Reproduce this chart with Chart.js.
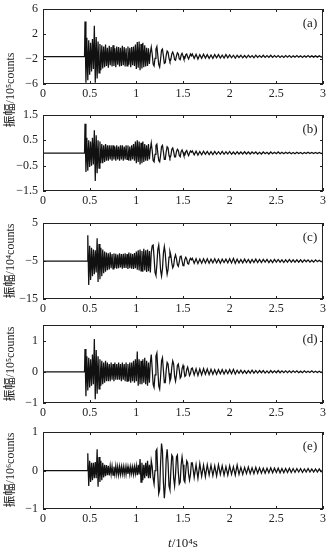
<!DOCTYPE html>
<html>
<head>
<meta charset="utf-8">
<script src="https://cdn.jsdelivr.net/npm/chart.js@4.4.0/dist/chart.umd.min.js"></script>
<style>
  body { margin: 0; background: #fff; width: 329px; height: 553px; position: relative; overflow: hidden;
         font-family: "Liberation Serif", "Noto Sans CJK SC", serif; color: #222; }
  .panel { position: absolute; left: 0; width: 329px; }
  .ylab { position: absolute; left: 9px; font-size: 12px; white-space: nowrap;
          transform: translate(-50%, -50%) rotate(-90deg); }
  .xlab { position: absolute; left: 183px; top: 543px; font-size: 13px; white-space: nowrap;
          transform: translate(-50%, -50%); }
</style>
</head>
<body>
<div class="panel" id="p0"><canvas id="c0"></canvas></div>
<div class="panel" id="p1"><canvas id="c1"></canvas></div>
<div class="panel" id="p2"><canvas id="c2"></canvas></div>
<div class="panel" id="p3"><canvas id="c3"></canvas></div>
<div class="panel" id="p4"><canvas id="c4"></canvas></div>
<div class="ylab" style="top:90px">振幅/10⁵counts</div>
<div class="ylab" style="top:261px">振幅/10⁴counts</div>
<div class="ylab" style="top:364px">振幅/10⁵counts</div>
<div class="ylab" style="top:470px">振幅/10⁶counts</div>
<div class="xlab"><i>t</i>/10⁴s</div>
<script>
// time axis (10^4 s)
const xTicks = [0, 0.5, 1, 1.5, 2, 2.5, 3];
const panelNames = ['(a)', '(b)', '(c)', '(d)', '(e)'];
const yRanges = [[-6, 6], [-1.5, 1.5], [-15, 5], [-1, 1.5], [-1, 1]];
const yTicksA = [-6, -2, 2, 6];
const yTicksB = [-1.5, -0.5, 0.5, 1.5];
const yTicksC = [-15, -5, 5];
const yTicksD = [-1, 0, 1];
const yTicksE = [-1, 0, 1];

// first arrival time and trace offset per panel
const onsets = [0.45, 0.45, 0.48, 0.45, 0.48];
const baselines = [-1.6, 0, -5, 0, 0];

// samples after onset, every 0.01 up to 1.59 (relative to the baseline)
const headA = [5.6, -4.2, 3.0, -3.8, 2.6, -2.9, 2.2, -2.4, 2.8, -2.0,
  4.9, -4.2, 3.1, -3.5, 2.4, -2.6, 2.0, -2.2, 1.8, -1.9,
  1.6, -1.7, 1.9, -1.5, 1.4, -1.8, 1.7, -1.4, 1.5, -1.6,
  1.8, -1.5, 1.3, -1.7, 1.6, -1.3, 1.5, -1.6, 1.4, -1.5,
  1.7, -1.4, 1.5, -1.6, 1.3, -1.5, 1.6, -1.3, 1.4, -1.7,
  1.5, -1.4, 1.6, -1.5, 1.9, -2.0, 2.3, -1.8, 2.4, -2.2,
  2.0, -1.9, 2.2, -1.7, 1.8, -1.6, 1.4, -1.5, 1.3, -1.2,
  0.6, 1.5, 0.4, -1.2, -1.5, -0.3, 1.2, 1.6, 0.2, -1.3,
  -1.7, -0.4, 1.0, 1.2, 0.1, -1.1, -1.0, 0.2, 0.9, 0.7,
  -0.3, -0.8, -0.5, 0.4, 0.7, 0.3, -0.5, -0.6, 0.1, 0.6,
  0.4, -0.4, -0.5, 0.2, 0.5, 0.1, -0.4, -0.3, 0.3, 0.4,
  -0.1, -0.4, 0.0, 0.4, 0.1];
const headB = [1.15, -0.75, 0.6, -0.7, 0.5, -0.55, 0.45, -0.5, 0.6, -0.45,
  0.9, -1.1, 0.7, -0.8, 0.5, -0.6, 0.45, -0.4, 0.35, -0.4,
  0.3, -0.35, 0.35, -0.3, 0.3, -0.3, 0.3, -0.25, 0.3, -0.3,
  0.3, -0.25, 0.25, -0.3, 0.3, -0.25, 0.25, -0.3, 0.3, -0.25,
  0.3, -0.3, 0.25, -0.25, 0.3, -0.25, 0.3, -0.3, 0.25, -0.3,
  0.3, -0.25, 0.35, -0.3, 0.45, -0.4, 0.5, -0.35, 0.45, -0.45,
  0.4, -0.4, 0.45, -0.35, 0.35, -0.3, 0.3, -0.3, 0.35, -0.25,
  0.15, 0.4, 0.1, -0.3, -0.35, -0.05, 0.3, 0.35, 0.0, -0.3,
  -0.35, -0.1, 0.25, 0.3, 0.05, -0.25, -0.25, 0.05, 0.25, 0.2,
  -0.1, -0.2, -0.1, 0.15, 0.2, 0.05, -0.15, -0.15, 0.05, 0.15,
  0.1, -0.1, -0.15, 0.05, 0.12, 0.03, -0.1, -0.08, 0.06, 0.1,
  -0.02, -0.1, 0.0, 0.08, 0.03];
const headC = [6.8, -6.3, 4.0, -5.0, 3.5, -4.0, 3.0, -3.5, 2.8, -3.0,
  6.0, -5.5, 4.5, -4.8, 3.5, -4.0, 3.0, -3.2, 2.5, -2.8,
  2.2, -2.4, 2.0, -2.2, 2.3, -1.9, 1.8, -2.1, 2.0, -1.8,
  1.9, -2.0, 1.7, -1.9, 2.0, -1.7, 1.8, -2.0, 1.9, -1.8,
  2.0, -1.8, 1.8, -2.1, 2.2, -1.9, 2.0, -2.0, 1.8, -2.1,
  2.1, -1.9, 2.5, -2.3, 2.8, -2.5, 3.0, -2.6, 2.6, -2.8,
  3.2, -2.5, 2.8, -2.9, 3.0, -2.7, 2.6, -3.0, 2.2, 4.0,
  4.2, 1.0, -3.0, -3.8, -1.0, 3.0, 4.2, 1.5, -2.5, -4.0,
  -2.0, 2.0, 3.8, 2.0, -1.5, -3.5, -2.2, 1.0, 2.5, 1.5,
  -0.5, -1.8, -1.2, 0.8, 1.6, 0.6, -1.0, -1.4, -0.2, 1.2,
  1.3, 0.0, -1.2, -1.0, 0.4, 1.0, 0.5, -0.7, -0.8, 0.2,
  0.7, 0.3];
const headD = [0.73, -0.78, 0.5, -0.6, 0.45, -0.5, 0.4, -0.45, 0.55, -0.4,
  1.05, -0.88, 0.7, -0.7, 0.5, -0.55, 0.4, -0.45, 0.35, -0.4,
  0.3, -0.35, 0.35, -0.3, 0.3, -0.3, 0.25, -0.3, 0.3, -0.25,
  0.25, -0.3, 0.3, -0.25, 0.25, -0.25, 0.3, -0.25, 0.25, -0.3,
  0.3, -0.25, 0.25, -0.3, 0.3, -0.3, 0.25, -0.3, 0.3, -0.35,
  0.3, -0.3, 0.35, -0.35, 0.4, -0.3, 0.65, -0.45, 0.4, -0.4,
  0.35, -0.4, 0.4, -0.35, 0.45, -0.4, 0.35, -0.45, 0.3, -0.35,
  0.3, 0.55, 0.1, -0.4, -0.5, -0.1, 0.5, 0.6, 0.1, -0.45,
  -0.55, -0.15, 0.35, 0.45, 0.05, -0.35, -0.35, 0.05, 0.3, 0.25,
  -0.05, -0.3, -0.2, 0.15, 0.35, 0.25, -0.15, -0.3, -0.1, 0.2,
  0.25, 0.05, -0.2, -0.15, 0.1, 0.2, 0.05, -0.15, -0.12, 0.08,
  0.15, 0.02, -0.12, -0.06, 0.1];
const headE = [0.45, -0.4, 0.25, -0.3, 0.2, -0.25, 0.2, -0.2, 0.22, -0.2,
  0.55, -0.42, 0.35, -0.3, 0.25, -0.25, 0.2, -0.18, 0.15, -0.15,
  0.14, -0.12, 0.12, -0.13, 0.12, -0.1, 0.11, -0.12, 0.1, -0.1,
  0.12, -0.1, 0.1, -0.11, 0.1, -0.1, 0.1, -0.09, 0.1, -0.1,
  0.09, -0.1, 0.1, -0.09, 0.08, -0.1, 0.1, -0.08, 0.09, -0.1,
  0.1, -0.08, 0.12, -0.12, 0.15, -0.1, 0.3, -0.3, 0.2, -0.25,
  0.15, -0.2, 0.2, -0.15, 0.25, -0.2, 0.15, -0.2, 0.25, 0.1,
  -0.2, -0.35, 0.0, 0.5, 0.55, -0.1, -0.6, -0.5, 0.2, 0.7,
  0.5, -0.3, -0.72, -0.4, 0.3, 0.55, 0.2, -0.4, -0.5, 0.0,
  0.4, 0.35, -0.2, -0.4, -0.1, 0.35, 0.4, -0.05, -0.35, -0.3,
  0.15, 0.35, 0.15, -0.25, -0.3, 0.0, 0.25, 0.2, -0.1, -0.25,
  -0.1, 0.2];

// coda samples, every 0.02 from 1.6 to 3.0
const tailA = [0.4, -0.3, 0.35, -0.4, 0.3, -0.3, 0.35, -0.25, 0.3, -0.3, 0.25, -0.3, 0.3, -0.2, 0.3, -0.25, 0.2, -0.25, 0.3, -0.2,
  0.25, -0.2, 0.2, -0.25, 0.2, -0.15, 0.2, -0.2, 0.15, -0.2, 0.2, -0.15, 0.15, -0.2, 0.2, -0.15, 0.15, -0.15, 0.2, -0.15,
  0.15, -0.15, 0.2, -0.15, 0.15, -0.1, 0.15, -0.15, 0.1, -0.15, 0.15, -0.1, 0.15, -0.15, 0.1, -0.1, 0.15, -0.1, 0.1, -0.15,
  0.1, -0.1, 0.15, -0.1, 0.1, -0.1, 0.1, -0.1, 0.1, -0.1, 0.05];
const tailB = [0.08, -0.07, 0.07, -0.08, 0.06, -0.07, 0.07, -0.05, 0.06, -0.06, 0.05, -0.06, 0.06, -0.05, 0.05, -0.05, 0.06, -0.05, 0.05, -0.04,
  0.06, -0.05, 0.04, -0.05, 0.05, -0.04, 0.04, -0.04, 0.05, -0.04, 0.04, -0.04, 0.04, -0.03, 0.04, -0.04, 0.03, -0.04, 0.04, -0.03,
  0.03, -0.04, 0.04, -0.03, 0.03, -0.03, 0.04, -0.03, 0.03, -0.03, 0.03, -0.02, 0.03, -0.03, 0.02, -0.03, 0.03, -0.02, 0.02, -0.03,
  0.02, -0.02, 0.03, -0.02, 0.02, -0.02, 0.02, -0.02, 0.02, -0.02, 0.01];
const tailC = [0.7, -0.6, 0.6, -0.7, 0.5, -0.6, 0.6, -0.5, 0.6, -0.6, 0.5, -0.5, 0.6, -0.5, 0.5, -0.6, 0.5, -0.4, 0.5, -0.5,
  0.6, -0.5, 0.7, -0.6, 0.5, -0.5, 0.4, -0.5, 0.5, -0.4, 0.4, -0.5, 0.4, -0.4, 0.5, -0.4, 0.4, -0.4, 0.4, -0.3,
  0.4, -0.4, 0.3, -0.4, 0.4, -0.3, 0.4, -0.3, 0.3, -0.4, 0.3, -0.3, 0.4, -0.3, 0.3, -0.3, 0.3, -0.3, 0.3, -0.3,
  0.3, -0.2, 0.3, -0.3, 0.2, -0.3, 0.3, -0.2, 0.2, -0.2, 0.1];
const tailD = [0.12, -0.1, 0.1, -0.12, 0.09, -0.1, 0.1, -0.08, 0.09, -0.09, 0.08, -0.08, 0.07, -0.08, 0.07, -0.06, 0.07, -0.07, 0.06, -0.06,
  0.07, -0.06, 0.08, -0.07, 0.05, -0.05, 0.05, -0.05, 0.04, -0.05, 0.04, -0.04, 0.05, -0.04, 0.04, -0.04, 0.04, -0.03, 0.04, -0.04,
  0.03, -0.04, 0.04, -0.03, 0.03, -0.03, 0.04, -0.03, 0.03, -0.03, 0.03, -0.03, 0.03, -0.03, 0.03, -0.02, 0.03, -0.03, 0.02, -0.03,
  0.03, -0.02, 0.02, -0.02, 0.03, -0.02, 0.02, -0.02, 0.02, -0.02, 0.01];
const tailE = [0.2, -0.18, 0.15, -0.2, 0.18, -0.15, 0.14, -0.16, 0.15, -0.12, 0.14, -0.13, 0.12, -0.14, 0.15, -0.1, 0.12, -0.12, 0.1, -0.12,
  0.12, -0.1, 0.1, -0.12, 0.14, -0.1, 0.08, -0.1, 0.08, -0.08, 0.09, -0.08, 0.07, -0.08, 0.08, -0.07, 0.07, -0.07, 0.06, -0.07,
  0.06, -0.06, 0.07, -0.06, 0.06, -0.05, 0.06, -0.06, 0.05, -0.06, 0.05, -0.05, 0.06, -0.05, 0.05, -0.05, 0.05, -0.04, 0.05, -0.05,
  0.04, -0.04, 0.05, -0.04, 0.04, -0.04, 0.04, -0.04, 0.04, -0.03, 0.02];

const heads = [headA, headB, headC, headD, headE];
const tails = [tailA, tailB, tailC, tailD, tailE];
const yTickSets = [yTicksA, yTicksB, yTicksC, yTicksD, yTicksE];

// plot box top / height in page pixels
const plotTops = [9, 115, 223, 325, 432];
const plotHeights = [75, 76, 76, 78, 77];
const padTop = 13, axisBelow = 22;

function buildTrace(k) {
  const base = baselines[k], onset = onsets[k];
  const pts = [{ x: 0, y: base }, { x: onset - 0.005, y: base }];
  heads[k].forEach((v, i) => pts.push({ x: onset + 0.01 * i, y: base + v }));
  const tailStart = onset + 0.01 * heads[k].length;
  tails[k].forEach((v, i) => pts.push({ x: tailStart + 0.02 * i, y: base + v }));
  return pts;
}

const fmt = v => String(v).replace('-', '\u2212');

const framePlugin = {
  id: 'frame',
  afterDraw(chart, args, opts) {
    const { ctx, chartArea: a, scales } = chart;
    ctx.save();
    ctx.strokeStyle = '#222';
    ctx.lineWidth = 1;
    ctx.strokeRect(a.left + 0.5, a.top + 0.5, a.right - a.left - 1, a.bottom - a.top - 1);
    ctx.beginPath();
    scales.x.ticks.forEach(t => {
      const px = Math.round(scales.x.getPixelForValue(t.value)) + 0.5;
      ctx.moveTo(px, a.bottom); ctx.lineTo(px, a.bottom - 3);
      ctx.moveTo(px, a.top); ctx.lineTo(px, a.top + 3);
    });
    scales.y.ticks.forEach(t => {
      const py = Math.round(scales.y.getPixelForValue(t.value)) + 0.5;
      ctx.moveTo(a.left, py); ctx.lineTo(a.left + 3, py);
      ctx.moveTo(a.right, py); ctx.lineTo(a.right - 3, py);
    });
    ctx.stroke();
    ctx.fillStyle = '#222';
    ctx.font = '13px "Liberation Serif"';
    ctx.textAlign = 'center';
    ctx.textBaseline = 'middle';
    ctx.fillText(opts.label, a.right - 13, a.top + 15);
    ctx.restore();
  }
};

panelNames.forEach((name, k) => {
  const wrap = document.getElementById('p' + k);
  wrap.style.top = (plotTops[k] - padTop) + 'px';
  wrap.style.height = (plotHeights[k] + padTop + axisBelow) + 'px';

  new Chart(document.getElementById('c' + k), {
    type: 'line',
    data: {
      datasets: [{
        data: buildTrace(k),
        borderColor: '#111',
        borderWidth: 1.25,
        pointRadius: 0,
        tension: 0
      }]
    },
    options: {
      responsive: true,
      maintainAspectRatio: false,
      animation: false,
      parsing: false,
      layout: { padding: { top: padTop, right: 6, left: 0, bottom: 0 } },
      plugins: {
        legend: { display: false },
        tooltip: { enabled: false },
        frame: { label: name }
      },
      scales: {
        x: {
          type: 'linear',
          min: 0,
          max: 3,
          afterBuildTicks: s => { s.ticks = xTicks.map(v => ({ value: v })); },
          afterFit: s => { s.height = axisBelow; },
          grid: { display: false, drawTicks: false },
          border: { display: false },
          ticks: {
            padding: 3,
            color: '#222',
            maxRotation: 0,
            font: { family: 'Liberation Serif', size: 12 },
            callback: v => fmt(v)
          }
        },
        y: {
          min: yRanges[k][0],
          max: yRanges[k][1],
          afterBuildTicks: s => { s.ticks = yTickSets[k].map(v => ({ value: v })); },
          afterFit: s => { s.width = 43; },
          grid: { display: false, drawTicks: false },
          border: { display: false },
          ticks: {
            padding: 5,
            color: '#222',
            font: { family: 'Liberation Serif', size: 12 },
            callback: v => fmt(v)
          }
        }
      }
    },
    plugins: [framePlugin]
  });
});
</script>
</body>
</html>
